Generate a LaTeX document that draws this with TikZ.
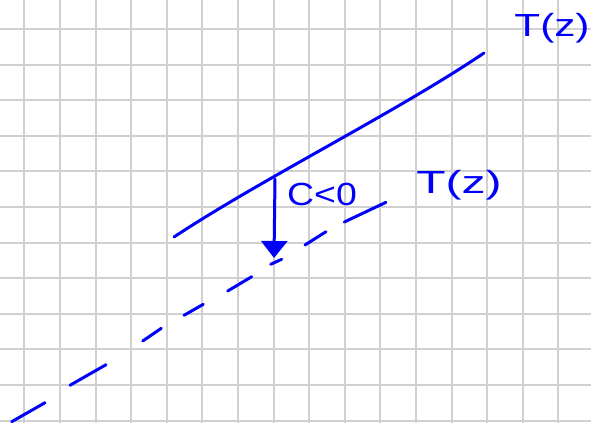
\documentclass[tikz,border=0pt]{standalone}
\usepackage{fontspec}
\setmainfont{Liberation Sans}
\usetikzlibrary{arrows.meta}
\definecolor{ink}{RGB}{0,0,250}
\definecolor{gridgray}{RGB}{208,208,208}
\tikzset{
  gridline/.style={draw=gridgray, line width=2pt},
  pen/.style={draw=ink, line width=3pt, line cap=round, line join=round},
  lbl/.style={text=ink, font=\fontsize{32}{32}\selectfont, inner sep=0pt},
}
\begin{document}
\begin{tikzpicture}[x=1pt,y=-1pt]
\useasboundingbox (0,0) rectangle (591,423);
\fill[white] (0,0) rectangle (591,423);
% grid
\foreach \i in {0,...,15} \draw[gridline] ({24.3+35.6*\i},0) -- ({24.3+35.6*\i},423);
\foreach \j in {0,...,11} \draw[gridline] (0,{29+35.6*\j}) -- (591,{29+35.6*\j});
% solid line T(z)
\draw[pen] (174,237) .. controls (260,180) and (400,110) .. (484,53);
% dashed line
\draw[pen] (11.7,421.7) -- (45,402.7);
\draw[pen] (70,385.3) -- (106,364.7);
\draw[pen] (142.7,341) -- (161.3,328.3);
\draw[pen] (184,315.3) -- (203.3,304.3);
\draw[pen] (227.7,291) -- (251.7,276.7);
\draw[pen] (270.7,264.3) -- (281.7,259.3);
\draw[pen] (305,245) -- (326,231.7);
\draw[pen] (344.3,222) -- (386,202.3);
% arrow C<0
\coordinate (top) at (275,179);
\coordinate (bot) at (274,258);
\draw[pen, -{Triangle[width=26pt,length=17pt]}, fill=ink] (top) -- (bot);
% labels
\node[lbl, xscale=1.32] (tz) at (552,28) {T(z)};
\node[lbl, xscale=1.5] (tz2) at (459,185) {T(z)};
\node[lbl, xscale=1.17] (c) at (322,194) {C<0};
\end{tikzpicture}
\end{document}
